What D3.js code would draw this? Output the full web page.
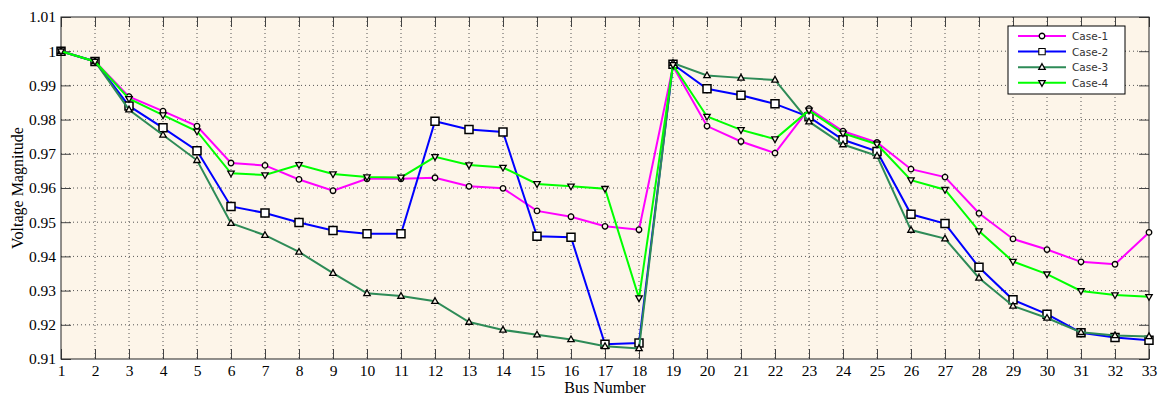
<html>
<head>
<script src="https://cdn.jsdelivr.net/npm/d3@7"></script>
<style>
  body { margin: 0; background: #fff; }
  .tick text { font-family: "Liberation Serif", serif; font-size: 15.5px; fill: #000; }
</style>
</head>
<body>
<svg id="chart" width="1161" height="398"></svg>
<script>
var buses = d3.range(1, 34);
var yTicks = [0.91, 0.92, 0.93, 0.94, 0.95, 0.96, 0.97, 0.98, 0.99, 1, 1.01];

var case1 = [1, 0.997, 0.9867, 0.9825, 0.9781, 0.9673, 0.9666, 0.9625, 0.9592, 0.9627, 0.9627, 0.963, 0.9605, 0.9599,
  0.9533, 0.9516, 0.9488, 0.9478, 0.9956, 0.9781, 0.9736, 0.9702, 0.9832, 0.9766, 0.9733, 0.9655, 0.9632, 0.9526,
  0.9451, 0.942, 0.9384, 0.9377, 0.947];
var case2 = [1, 0.997, 0.984, 0.9776, 0.9709, 0.9546, 0.9527, 0.9499, 0.9476, 0.9466, 0.9466, 0.9795, 0.9771, 0.9764,
  0.9459, 0.9456, 0.9143, 0.9147, 0.9962, 0.989, 0.9871, 0.9846, 0.9808, 0.9741, 0.9707, 0.9523, 0.9496, 0.9368,
  0.9273, 0.9231, 0.9177, 0.9163, 0.9155];
var case3 = [1, 0.997, 0.9829, 0.9755, 0.9681, 0.9497, 0.9462, 0.9413, 0.9351, 0.9292, 0.9284, 0.9269, 0.9208, 0.9185,
  0.9171, 0.9157, 0.9137, 0.9131, 0.9965, 0.9929, 0.9922, 0.9916, 0.9794, 0.9727, 0.9694, 0.9477, 0.9452, 0.9337,
  0.9255, 0.922, 0.9178, 0.9169, 0.9166];
var case4 = [1, 0.997, 0.9861, 0.9813, 0.9766, 0.9643, 0.9638, 0.9668, 0.9641, 0.9632, 0.9631, 0.9691, 0.9667, 0.966,
  0.9612, 0.9605, 0.9598, 0.9278, 0.996, 0.9809, 0.977, 0.9743, 0.9827, 0.976, 0.9728, 0.9623, 0.9595, 0.9474,
  0.9385, 0.9348, 0.9299, 0.9287, 0.9282];

var series = [
  {name: "Case-1", values: case1, color: "#ff00ff", marker: "circle"},
  {name: "Case-2", values: case2, color: "#0000ff", marker: "square"},
  {name: "Case-3", values: case3, color: "#2e8b57", marker: "triangle"},
  {name: "Case-4", values: case4, color: "#00ff00", marker: "down"}
];

var svg = d3.select("#chart");
var pLeft = 61, pRight = 1149, pTop = 17, pBottom = 359;

var x = d3.scaleLinear().domain([1, 33]).range([pLeft, pRight]);
var y = d3.scaleLinear().domain([0.91, 1.01]).range([pBottom, pTop]);

// plot background
svg.append("rect")
  .attr("x", pLeft).attr("y", pTop)
  .attr("width", pRight - pLeft).attr("height", pBottom - pTop)
  .attr("fill", "#fdf5e9");

// dotted grid
svg.append("g").selectAll("line")
  .data(buses.slice(1, -1))
  .enter().append("line")
  .attr("x1", function(d){ return x(d); }).attr("x2", function(d){ return x(d); })
  .attr("y1", pTop).attr("y2", pBottom)
  .attr("stroke", "#555").attr("stroke-width", 1).attr("stroke-dasharray", "1,3");
svg.append("g").selectAll("line")
  .data(yTicks.slice(1, -1))
  .enter().append("line")
  .attr("x1", pLeft).attr("x2", pRight)
  .attr("y1", function(d){ return y(d); }).attr("y2", function(d){ return y(d); })
  .attr("stroke", "#555").attr("stroke-width", 1).attr("stroke-dasharray", "1,3");

// axes, ticks point inward on all four sides
var xAxis = d3.axisBottom(x).tickValues(buses).tickFormat(d3.format("d")).tickSizeInner(-10).tickSizeOuter(0).tickPadding(6);
var yAxis = d3.axisLeft(y).tickValues(yTicks).tickFormat(function(d){ return d === 1 ? "1" : d3.format(".2f")(d); })
  .tickSizeInner(-10).tickSizeOuter(0).tickPadding(5);
var xTop = d3.axisTop(x).tickValues(buses).tickFormat("").tickSizeInner(-10).tickSizeOuter(0);
var yRight = d3.axisRight(y).tickValues(yTicks).tickFormat("").tickSizeInner(-10).tickSizeOuter(0);

svg.append("g").attr("transform", "translate(0," + pBottom + ")").call(xAxis);
svg.append("g").attr("transform", "translate(" + pLeft + ",0)").call(yAxis);
svg.append("g").attr("transform", "translate(0," + pTop + ")").call(xTop);
svg.append("g").attr("transform", "translate(" + pRight + ",0)").call(yRight);
svg.selectAll(".domain").remove();
svg.selectAll(".tick line").attr("stroke", "#444");

svg.append("rect")
  .attr("x", pLeft).attr("y", pTop)
  .attr("width", pRight - pLeft).attr("height", pBottom - pTop)
  .attr("fill", "none").attr("stroke", "#222").attr("stroke-width", 1);

// axis titles
svg.append("text")
  .attr("x", (pLeft + pRight) / 2).attr("y", 393)
  .attr("text-anchor", "middle")
  .style("font-family", "Liberation Serif, serif").style("font-size", "16px")
  .text("Bus Number");
svg.append("text")
  .attr("transform", "translate(23," + ((pTop + pBottom) / 2) + ") rotate(-90)")
  .attr("text-anchor", "middle")
  .style("font-family", "Liberation Serif, serif").style("font-size", "16px")
  .text("Voltage Magnitude");

function markerPath(type) {
  if (type === "circle") return d3.symbol().type(d3.symbolCircle).size(24)();
  if (type === "square") return "M-4,-4L4,-4L4,4L-4,4Z";
  if (type === "triangle") return "M0,-3.5L3.2,2.2L-3.2,2.2Z";
  return "M0,3.5L3.2,-2.2L-3.2,-2.2Z";
}

var line = d3.line()
  .x(function(d, i){ return x(buses[i]); })
  .y(function(d){ return y(d); });

series.forEach(function(s) {
  var g = svg.append("g");
  g.append("path")
    .attr("d", line(s.values))
    .attr("fill", "none")
    .attr("stroke", s.color)
    .attr("stroke-width", 2);
  g.selectAll("path.m")
    .data(s.values)
    .enter().append("path")
    .attr("class", "m")
    .attr("d", markerPath(s.marker))
    .attr("transform", function(d, i){ return "translate(" + x(buses[i]) + "," + y(d) + ")"; })
    .attr("fill", s.marker === "square" ? "#fff" : "#fdf5e9")
    .attr("stroke", "#000")
    .attr("stroke-width", s.marker === "square" ? 1.5 : 1.3);
});

// legend
var leg = svg.append("g").attr("transform", "translate(1008,26)");
leg.append("rect")
  .attr("width", 117).attr("height", 68)
  .attr("fill", "#fff").attr("stroke", "#000").attr("stroke-width", 1);
series.forEach(function(s, i) {
  var yy = 10 + i * 15.6;
  leg.append("line")
    .attr("x1", 10).attr("x2", 58).attr("y1", yy).attr("y2", yy)
    .attr("stroke", s.color).attr("stroke-width", 2);
  leg.append("path")
    .attr("d", markerPath(s.marker))
    .attr("transform", "translate(34," + yy + ")" + (s.marker === "square" ? " scale(0.8)" : ""))
    .attr("fill", "#fff").attr("stroke", "#000").attr("stroke-width", 1.3);
  leg.append("text")
    .attr("x", 64).attr("y", yy + 4)
    .style("font-family", "DejaVu Sans, sans-serif").style("font-size", "10.5px")
    .attr("fill", "#333")
    .text(s.name);
});
</script>
</body>
</html>
